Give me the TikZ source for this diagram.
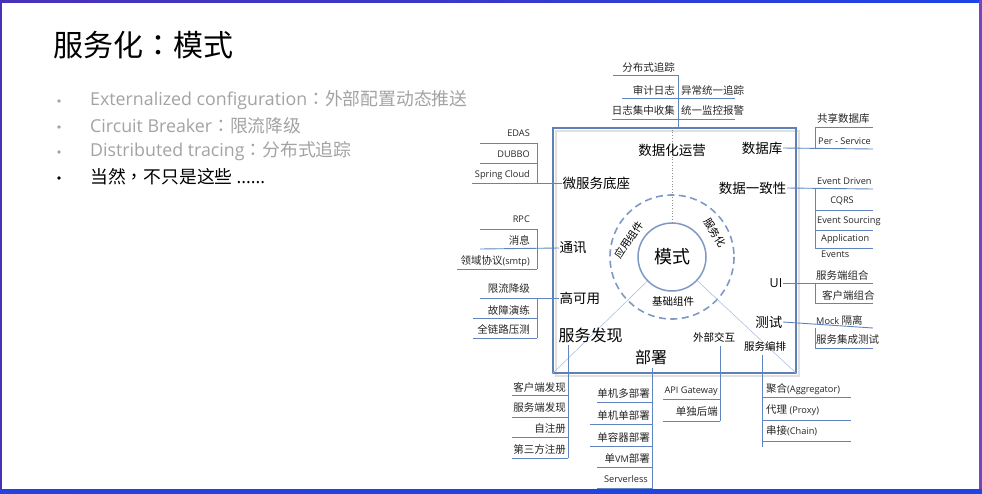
\documentclass[tikz,border=0pt]{standalone}
\usepackage{fontspec}
\setmainfont{Noto Sans CJK SC}
\newfontfamily\lat{Open Sans}
\newfontfamily\punct{Noto Sans CJK TC}
\usetikzlibrary{calc}

\definecolor{lineblue}{HTML}{5F85C0}
\definecolor{boxblue}{HTML}{5E80B8}
\definecolor{ringblue}{HTML}{7F99C6}
\definecolor{greytext}{HTML}{A3A3A3}
\definecolor{framepurple}{HTML}{4A32B8}
\definecolor{frameblue}{HTML}{1E44E6}
\definecolor{rimpurple}{HTML}{7444C4}

\newcommand\hseg[3]{\draw[tline] (#1,#3) -- (#2,#3);}

\tikzset{
  tline/.style={draw=lineblue, line width=0.9pt},
  item/.style={font=\fontsize{10.5}{12}\selectfont, inner sep=0pt, text=black!85},
  litem/.style={font=\lat\fontsize{9.2}{11}\selectfont, inner sep=0pt, text=black!85},
  inlab/.style={font=\fontsize{13.5}{15}\selectfont, inner sep=0.5pt},
  biglab/.style={font=\fontsize{16}{18}\selectfont, inner sep=0.5pt},
  smalllab/.style={font=\fontsize{10.5}{12}\selectfont, inner sep=0pt},
  bullettext/.style={anchor=west, font=\fontsize{17.8}{20}\selectfont, inner sep=0pt},
  bulletdot/.style={circle, minimum size=3.8pt, inner sep=0pt},
}

\begin{document}
\begin{tikzpicture}[x=1pt, y=-1pt]
\useasboundingbox (0,0) rectangle (982,493);
\fill[white] (0,0) rectangle (982,493);

% ---------- title and bullet list ----------
\node[anchor=west, font=\fontsize{30}{34}\selectfont, inner sep=0pt] (title) at (53,45) {服务化{\punct ：}模式};

\node[bulletdot, fill=greytext] (d1) at (59,101) {};
\node[bulletdot, fill=greytext] (d2) at (59,127) {};
\node[bulletdot, fill=greytext] (d3) at (59,152) {};
\node[bulletdot, fill=black] (d4) at (59,178) {};
\node[bullettext, text=greytext] (l1) at (90,100) {{\lat Externalized configuration}{\punct ：}外部配置动态推送};
\node[bullettext, text=greytext] (l2) at (90,126) {{\lat Circuit Breaker}{\punct ：}限流降级};
\node[bullettext, text=greytext] (l3) at (90,151) {{\lat Distributed tracing}{\punct ：}分布式追踪};
\node[bullettext] (l4) at (90,177) {当然{\punct ，}不只是这些 {\lat ......}};

% ---------- central square ----------
\draw[black!12, line width=2pt] (556,131) rectangle (799,376);
\node[draw=boxblue, line width=2.6pt, minimum width=243pt, minimum height=245pt, inner sep=0pt] (box) at (674.5,250.5) {};

% core circle and dashed ring
\draw[ringblue, line width=1.6pt, dash pattern=on 7pt off 4.5pt] (672,257) circle[radius=62];
\node[circle, draw=ringblue, line width=1.5pt, minimum size=68pt, inner sep=0pt] (mode) at (672,257) {};
\node[font=\fontsize{18}{20}\selectfont, inner sep=0pt] (modetext) at (mode.center) {模式};
\node[smalllab, rotate=57] (app) at (629,240) {应用组件};
\node[smalllab, rotate=-57] (svc) at (715,233) {服务化};
\node[smalllab] (basec) at (673,302) {基础组件};

% guide lines from the core
\draw[black!45, line width=0.7pt, dotted] (mode.north) -- (mode.north |- box.north);
\draw[ringblue!70, line width=0.5pt] (mode) -- (box.south west);
\draw[ringblue!70, line width=0.5pt] (mode) -- (box.south east);

% labels inside the square
\node[inlab] (ops) at (672,150) {数据化运营};
\node[inlab, anchor=east] (db) at (783,148) {数据库};
\node[inlab, anchor=east] (cons) at (787,188) {数据一致性};
\node[inlab, anchor=west] (base) at (562,183) {微服务底座};
\node[inlab, anchor=west] (comm) at (559,248) {通讯};
\node[inlab, anchor=west] (ha) at (559,298) {高可用};
\node[biglab, anchor=west] (disc) at (558,335) {服务发现};
\node[biglab] (dep) at (651,357) {部署};
\node[smalllab] (ext) at (714,337) {外部交互};
\node[smalllab] (orch) at (765,346) {服务编排};
\node[inlab, anchor=east] (test) at (783,322) {测试};
\node[inlab, anchor=east, font=\lat\fontsize{12.5}{14}\selectfont] (ui) at (783,283) {UI};

% ---------- top branch: 数据化运营 ----------
\coordinate (topS) at (678,128);
\coordinate (topT) at (678,75);
\draw[tline] (topS) -- (topT);
\hseg{613}{678}{75}
\hseg{622}{735}{98}
\hseg{612}{735}{119}
\node[item, anchor=east] at (675,67) {分布式追踪};
\node[item, anchor=east] at (675,90) {审计日志};
\node[item, anchor=east] at (675,110) {日志集中收集};
\node[item, anchor=west] at (681,90) {异常统一追踪};
\node[item, anchor=west] at (681,110) {统一监控报警};

% ---------- left branch: 微服务底座 ----------
\coordinate (b1) at (537,143);
\coordinate (b2) at (537,183);
\draw[tline] (b1) -- (b2);
\draw[tline] (472,183) -- (base.west);
\hseg{480}{537}{143}
\hseg{480}{537}{163}
\node[litem, anchor=east] at (530,133) {EDAS};
\node[litem, anchor=east] at (530,154) {DUBBO};
\node[litem, anchor=east] at (530,175) {Spring Cloud};

% ---------- left branch: 通讯 ----------
\coordinate (c1) at (537,229);
\coordinate (c2) at (537,269);
\draw[tline] (c1) -- (c2);
\draw[tline] (480,249) -- (comm.west);
\hseg{480}{537}{229}
\hseg{457}{537}{269}
\node[litem, anchor=east] at (530,219) {RPC};
\node[item, anchor=east] at (530,240) {消息};
\node[item, anchor=east] at (530,261) {领域协议{\lat\fontsize{9.2}{11}\selectfont (smtp)}};

% ---------- left branch: 高可用 ----------
\coordinate (h1) at (537,298);
\coordinate (h2) at (537,338);
\draw[tline] (h1) -- (h2);
\draw[tline] (480,298) -- (ha.west);
\hseg{473}{537}{318}
\hseg{473}{537}{338}
\node[item, anchor=east] at (530,289) {限流降级};
\node[item, anchor=east] at (530,310) {故障演练};
\node[item, anchor=east] at (530,329) {全链路压测};

% ---------- right branch: 数据库 ----------
\coordinate (r1) at (815,127);
\coordinate (r2) at (815,149);
\draw[tline] (r1) -- (r2);
\draw[tline] (db.east) -- (873,149);
\hseg{815}{873}{127}
\node[item, anchor=west] at (817,118) {共享数据库};
\node[litem, anchor=west] at (818,141) {Per - Service};

% ---------- right branch: 数据一致性 ----------
\coordinate (s1) at (815,189);
\coordinate (s2) at (815,248);
\draw[tline] (s1) -- (s2);
\draw[tline] (cons.east) -- (873,189);
\hseg{815}{873}{210}
\hseg{815}{873}{230}
\hseg{815}{873}{248}
\node[litem, anchor=west] at (817,181) {Event Driven};
\node[litem] at (842,201) {CQRS};
\node[litem, anchor=west] at (817,221) {Event Sourcing};
\node[litem, anchor=west] at (821,239) {Application};
\node[litem, anchor=west] at (821,254) {Events};

% ---------- right branch: UI ----------
\coordinate (u1) at (815,283);
\coordinate (u2) at (815,303);
\draw[tline] (u1) -- (u2);
\draw[tline] (ui.east) -- (873,283);
\hseg{815}{873}{303}
\node[item, anchor=west] at (816,275) {服务端组合};
\node[item, anchor=west] at (822,295) {客户端组合};

% ---------- right branch: 测试 ----------
\coordinate (t1) at (815,328);
\coordinate (t2) at (815,348);
\draw[tline] (t1) -- (t2);
\draw[tline] (test.east) -- (873,328);
\hseg{815}{873}{348}
\node[item, anchor=west] at (816,320) {{\lat\fontsize{9.2}{11}\selectfont Mock }隔离};
\node[item, anchor=west] at (816,340) {服务集成测试};

% ---------- bottom branch: 服务发现 ----------
\coordinate (f1) at (568,345);
\coordinate (f2) at (568,458);
\draw[tline] (f1) -- (f2);
\hseg{512}{568}{395}
\hseg{512}{568}{417}
\hseg{512}{568}{437}
\hseg{512}{568}{458}
\node[item, anchor=east] at (566,387) {客户端发现};
\node[item, anchor=east] at (566,407) {服务端发现};
\node[item, anchor=east] at (566,429) {自注册};
\node[item, anchor=east] at (566,450) {第三方注册};

% ---------- bottom branch: 部署 ----------
\coordinate (p1) at (652,368);
\coordinate (p2) at (652,493);
\draw[tline] (p1) -- (p2);
\hseg{597}{652}{402}
\hseg{590}{652}{424}
\hseg{590}{652}{446}
\hseg{597}{652}{467}
\hseg{597}{652}{488}
\node[item, anchor=east] at (650,393) {单机多部署};
\node[item, anchor=east] at (650,415) {单机单部署};
\node[item, anchor=east] at (650,437) {单容器部署};
\node[item, anchor=east] at (650,458) {单{\lat\fontsize{9.2}{11}\selectfont VM}部署};
\node[litem, anchor=east] at (648,479) {Serverless};

% ---------- bottom branch: 外部交互 ----------
\coordinate (e1) at (720,346);
\coordinate (e2) at (720,421);
\draw[tline] (e1) -- (e2);
\hseg{663}{720}{399}
\hseg{663}{720}{421}
\node[litem, anchor=east] at (718,391) {API Gateway};
\node[item, anchor=east] at (718,412) {单独后端};

% ---------- bottom branch: 服务编排 ----------
\coordinate (o1) at (762,355);
\coordinate (o2) at (762,447);
\draw[tline] (o1) -- (o2);
\hseg{762}{851}{397}
\hseg{762}{851}{420}
\hseg{762}{851}{441}
\node[item, anchor=west] at (766,389) {聚合{\lat\fontsize{9.2}{11}\selectfont (Aggregator)}};
\node[item, anchor=west] at (766,410) {代理{\lat\fontsize{9.2}{11}\selectfont\ (Proxy)}};
\node[item, anchor=west] at (766,431) {串接{\lat\fontsize{9.2}{11}\selectfont (Chain)}};

% ---------- slide frame ----------
\shade[left color=framepurple, right color=frameblue, middle color=framepurple!60!frameblue] (0,0) rectangle (982,2.5);
\fill[framepurple] (0,0) rectangle (2,493);
\fill[rimpurple] (979,0) rectangle (982,493);
\shade[left color=frameblue!85!framepurple, right color=frameblue] (0,489) rectangle (982,493);
\end{tikzpicture}
\end{document}
